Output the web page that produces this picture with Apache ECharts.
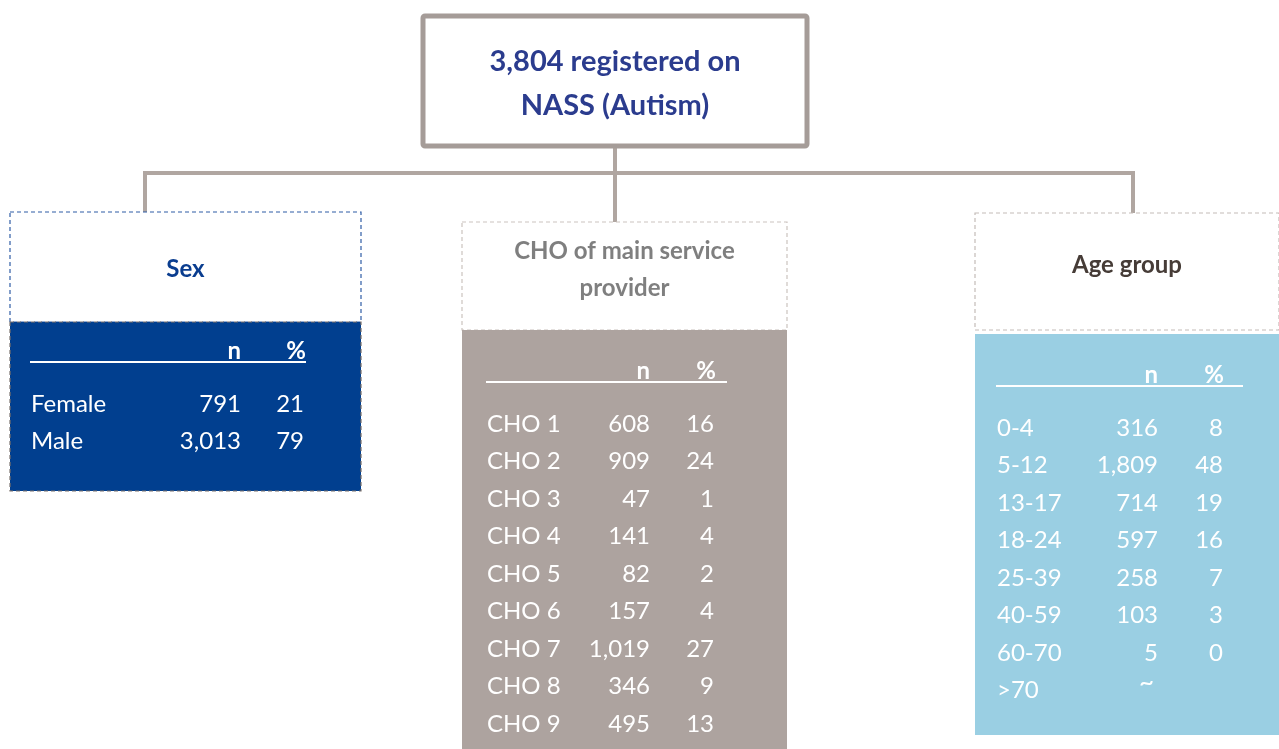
<!DOCTYPE html>
<html>
<head>
<meta charset="utf-8">
<script src="https://cdn.jsdelivr.net/npm/echarts@6/dist/echarts.min.js"></script>
<style>
  html, body { margin: 0; padding: 0; background: #fff; }
  #main { width: 1279px; height: 749px; }
</style>
</head>
<body>
<div id="main"></div>
<script>
// values
const totalLines = ["3,804 registered on", "NASS (Autism)"];

const sexLabels = ["Female", "Male"];
const sexN = ["791", "3,013"];
const sexPct = ["21", "79"];

const choLabels = ["CHO 1", "CHO 2", "CHO 3", "CHO 4", "CHO 5", "CHO 6", "CHO 7", "CHO 8", "CHO 9"];
const choN = ["608", "909", "47", "141", "82", "157", "1,019", "346", "495"];
const choPct = ["16", "24", "1", "4", "2", "4", "27", "9", "13"];

const ageLabels = ["0-4", "5-12", "13-17", "18-24", "25-39", "40-59", "60-70", ">70"];
const ageN = ["316", "1,809", "714", "597", "258", "103", "5", "~"];
const agePct = ["8", "48", "19", "16", "7", "3", "0", ""];

const FONT = "Lato, 'Open Sans', sans-serif";
const connector = "#b0a6a1";

function txt(x, y, text, opt) {
  return {
    type: "text",
    x: x, y: y,
    style: Object.assign({
      text: text,
      fill: "#fff",
      font: "24px " + FONT,
      textAlign: "left",
      textVerticalAlign: "middle"
    }, opt || {})
  };
}

function line(x1, y1, x2, y2, stroke, w) {
  return {
    type: "line",
    shape: { x1: x1, y1: y1, x2: x2, y2: y2 },
    style: { stroke: stroke, lineWidth: w }
  };
}

// one category panel: header box + coloured body with table
function panel(p) {
  const els = [];
  els.push({
    type: "rect",
    shape: { x: p.x, y: p.hy, width: p.w, height: p.hh },
    style: { fill: "#fff", stroke: p.hStroke, lineWidth: 1.2, lineDash: [4, 3] }
  });
  p.title.forEach(function (t, i) {
    els.push(txt(p.x + p.w / 2, p.ty + i * 37, t, {
      fill: p.titleColor, font: "bold 24px " + FONT, textAlign: "center"
    }));
  });
  els.push({
    type: "rect",
    shape: { x: p.x, y: p.by, width: p.w, height: p.bh },
    style: { fill: p.fill, stroke: p.bStroke || null, lineWidth: 1.2, lineDash: [4, 3] }
  });
  // table header
  els.push(txt(p.nx, p.headY, "n", { font: "bold 24px " + FONT, textAlign: "right" }));
  els.push(txt(p.phx, p.headY, p.pctHead, { font: "bold 24px " + FONT, textAlign: "right" }));
  els.push(line(p.lx1, p.lineY, p.lx2, p.lineY, "#fff", 2));
  p.labels.forEach(function (lab, i) {
    const y = p.rowY + i * p.step;
    els.push(txt(p.lx1 + 1, y, lab));
    if (p.n[i] === "~") {
      els.push(txt(p.nx - 4, y - 8, p.n[i], { textAlign: "right", font: "26px " + FONT }));
    } else {
      els.push(txt(p.nx, y, p.n[i], { textAlign: "right" }));
    }
    els.push(txt(p.px, y, p.pct[i], { textAlign: "right" }));
  });
  return els;
}

const elements = [];

// connectors
elements.push(line(615, 147, 615, 222, connector, 4));
elements.push(line(145, 173, 1133, 173, connector, 4));
elements.push(line(145, 171, 145, 212, connector, 4));
elements.push(line(1133, 171, 1133, 213, connector, 4));

// top box
elements.push({
  type: "rect",
  shape: { x: 423, y: 16, width: 384, height: 130, r: 2 },
  style: { fill: "#fff", stroke: "#a59c98", lineWidth: 5 }
});
totalLines.forEach(function (t, i) {
  elements.push(txt(615, 62 + i * 44, t, {
    fill: "#2b3c8e", font: "bold 29px " + FONT, textAlign: "center"
  }));
});

panel({
  x: 10, w: 351, hy: 212, hh: 110, by: 322, bh: 169,
  hStroke: "#2f5da6", bStroke: "#7a716c", fill: "#013f8f",
  title: ["Sex"], ty: 269, titleColor: "#0a3d8f",
  nx: 241, px: 304, phx: 306, pctHead: "%", headY: 351, lineY: 362, lx1: 30, lx2: 306,
  labels: sexLabels, n: sexN, pct: sexPct, rowY: 404, step: 37.5
}).forEach(function (e) { elements.push(e); });

panel({
  x: 462, w: 325, hy: 222, hh: 108, by: 330, bh: 420,
  hStroke: "#cbc3bf", fill: "#ada39f",
  title: ["CHO of main service", "provider"], ty: 251, titleColor: "#7f7f7f",
  nx: 650, px: 714, phx: 727, pctHead: "%_", headY: 371, lineY: 382, lx1: 486, lx2: 727,
  labels: choLabels, n: choN, pct: choPct, rowY: 424, step: 37.5
}).forEach(function (e) { elements.push(e); });

panel({
  x: 975, w: 304, hy: 213, hh: 117, by: 334, bh: 401,
  hStroke: "#c4bcb8", fill: "#9acfe3",
  title: ["Age group"], ty: 265, titleColor: "#463c37",
  nx: 1158, px: 1223, phx: 1224, pctHead: "%", headY: 375, lineY: 386, lx1: 996, lx2: 1243,
  labels: ageLabels, n: ageN, pct: agePct, rowY: 428, step: 37.5
}).forEach(function (e) { elements.push(e); });

const chart = echarts.init(document.getElementById("main"), null, { renderer: "canvas" });
chart.setOption({
  animation: false,
  graphic: { elements: elements }
});
</script>
</body>
</html>
